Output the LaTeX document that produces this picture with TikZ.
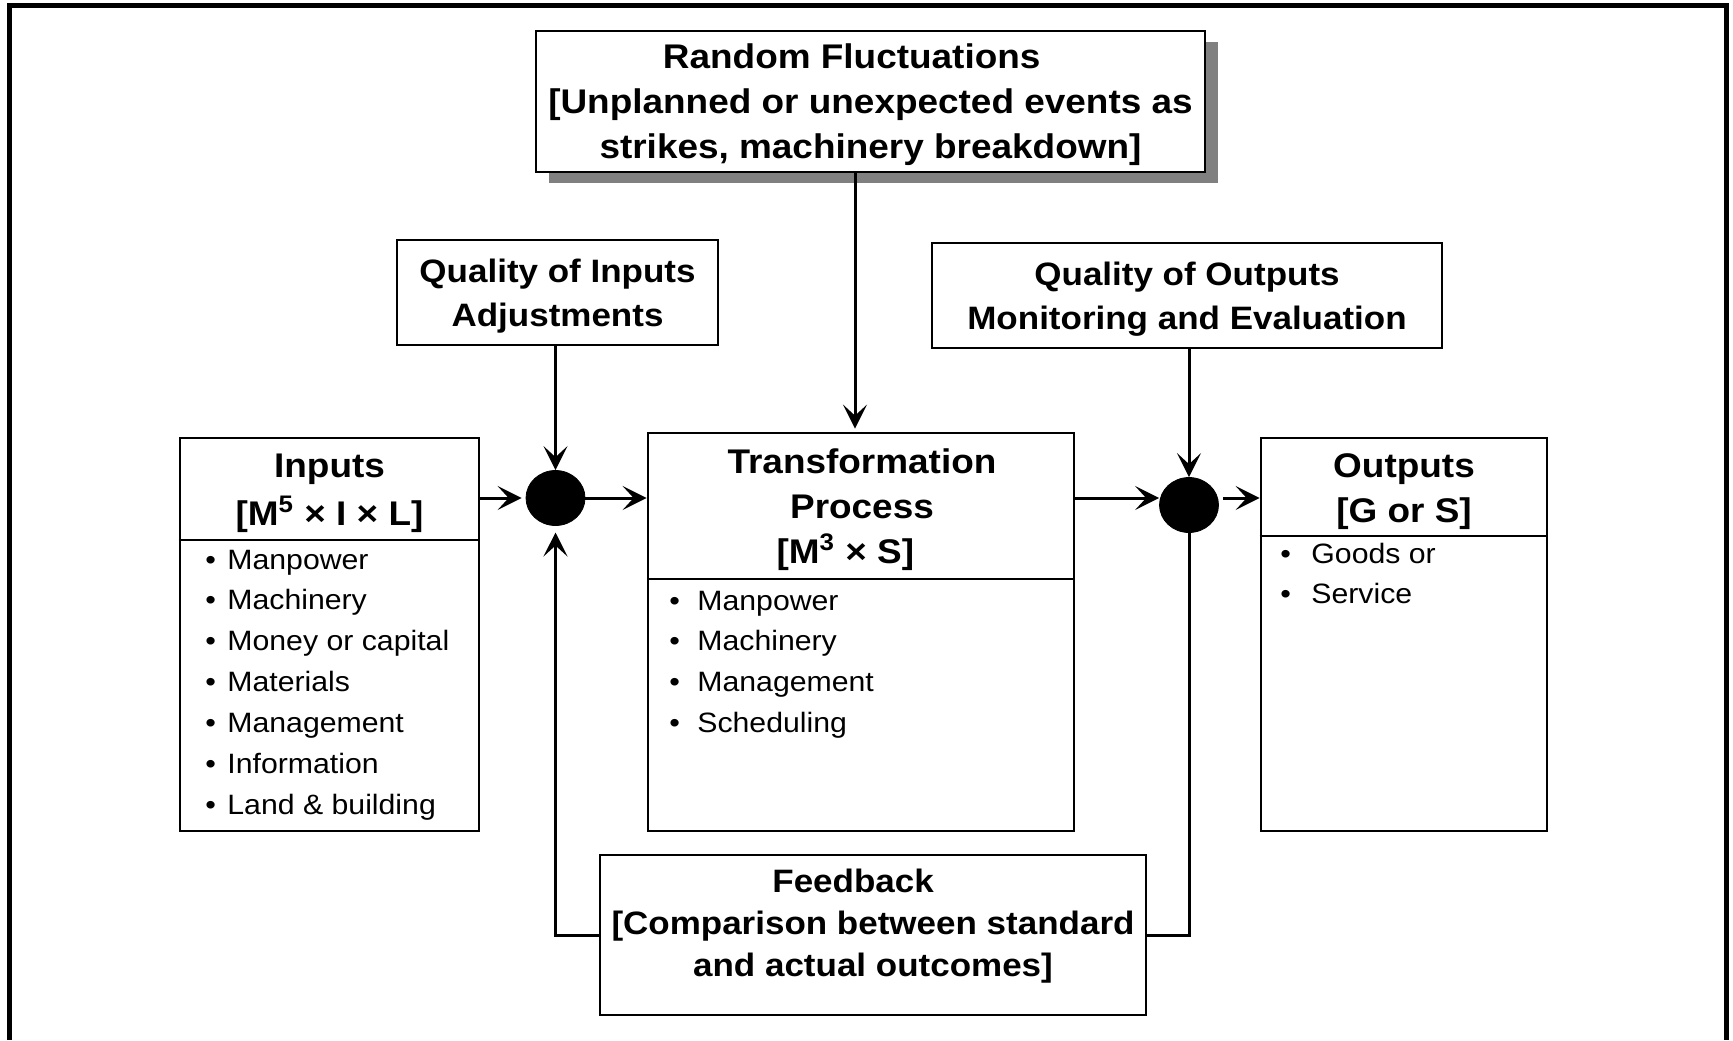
\documentclass[tikz,border=0pt]{standalone}
\usepackage{fontspec}
\setmainfont{Liberation Sans}[FakeStretch=1.08]
\usetikzlibrary{arrows.meta,positioning,shadows,shapes.geometric}
\tikzset{%
   blk/.style={
      draw=black,
      line width=1.4pt,
      fill=white,
      inner sep=0pt
   },
   hdr/.style={
      align=center,
      inner sep=0pt,
      text depth=0pt,
      font=\bfseries\fontsize{17.1}{22.5}\selectfont
   },
   qhdr/.style={
      hdr,
      font=\bfseries\fontsize{16.2}{22}\selectfont
   },
   itm/.style={
      anchor=base west,
      inner sep=0pt,
      font=\fontsize{14}{17}\selectfont
   },
   jn/.style={
      ellipse,
      draw=black,
      fill=black,
      inner sep=0pt,
      minimum width=29.5pt,
      minimum height=27.5pt
   },
   wire/.style={
      line width=1.5pt
   },
   arw/.style={
      wire,
      -{Stealth[length=12pt,width=12pt,inset=5.5pt]}
   },
   rim/.style={
      line width=2.5pt
   },
}
\begin{document}
\begin{tikzpicture}[x=0.5pt, y=-0.5pt]
   \useasboundingbox (0,0) rectangle (1733,1040);
   % frame, open at the bottom
   \draw[rim] (9.5,1040) -- (9.5,5.5) -- (1726,5.5) -- (1726,1040);
   % blocks
   \node[blk, hdr, minimum width=334.5pt, minimum height=70.5pt,
      drop shadow={shadow xshift=6.5pt, shadow yshift=-5.5pt, fill=black!50, opacity=1}]
      (rf) at (870.5,101.5) {Random Fluctuations\hspace*{18.8pt}\\{[}Unplanned or unexpected events as\\strikes, machinery breakdown{]}};
   \node[blk, qhdr, minimum width=160.5pt, minimum height=52.5pt] (qi) at (557.5,292.5) {Quality of Inputs\\Adjustments};
   \node[blk, qhdr, minimum width=255pt, minimum height=52.5pt] (qo) at (1187,295.5) {Quality of Outputs\\Monitoring and Evaluation};
   \node[blk, minimum width=149.5pt, minimum height=196.5pt] (ip) at (329.5,634.5) {};
   \node[blk, minimum width=213pt, minimum height=199pt] (tp) at (861,632) {};
   \node[blk, minimum width=143pt, minimum height=196.5pt] (op) at (1404,634.5) {};
   \node[blk, minimum width=273pt, minimum height=80pt] (fb) at (873,935) {};
   % titles
   \node[hdr, font=\bfseries\fontsize{17.1}{23.75}\selectfont] (iptitle) at (329.5,489.5) {Inputs\\{[}M\textsuperscript{5} × I × L{]}};
   \node[hdr] (tptitle) at (862,506) {Transformation\\Process\\{[}M\textsuperscript{3} × S{]}\hspace*{16.6pt}};
   \node[hdr] (optitle) at (1404,488) {Outputs\\{[}G or S{]}};
   \node[qhdr, font=\bfseries\fontsize{16.2}{21}\selectfont] (fbtitle) at (873,923)
      {Feedback\hspace*{19.9pt}\\{[}Comparison between standard\\and actual outcomes{]}};
   \draw[line width=1.4pt] (ip.west |- 0,540) -- (ip.east |- 0,540);
   \draw[line width=1.4pt] (tp.west |- 0,579) -- (tp.east |- 0,579);
   \draw[line width=1.4pt] (op.west |- 0,536) -- (op.east |- 0,536);
   % lists
   \foreach \t [count=\i from 0] in {Manpower,Machinery,Money or capital,Materials,Management,Information,Land \& building}
      \node[itm] (ipi\i) at (205,{569+40.9*\i}) {\makebox[11pt][l]{\textbullet}\t};
   \foreach \t [count=\i from 0] in {Manpower,Machinery,Management,Scheduling}
      \node[itm] (tpi\i) at (669,{610+40.9*\i}) {\makebox[14pt][l]{\textbullet}\t};
   \foreach \t [count=\i from 0] in {Goods or,Service}
      \node[itm] (opi\i) at (1280,{563+40.9*\i}) {\makebox[15.5pt][l]{\textbullet}\t};
   % junctions
   \node[jn] (jin) at (555.5,498) {};
   \node[jn] (jout) at (1189,505) {};
   \coordinate (rfa) at ([xshift=-7.75pt]rf.south);
   \coordinate (jo) at ([xshift=2pt]jout.east);
   % connectors
   \draw[arw, shorten >=2pt] (ip.east |- jin) -- (jin);
   \draw[arw] (jin) -- (jin -| tp.west);
   \draw[arw, shorten >=1.5pt] (rfa) -- (rfa |- tp.north);
   \draw[arw] (qi.south -| jin) -- (jin);
   \draw[arw] (qo.south -| jout) -- (jout);
   \draw[arw] (tp.east |- jin) -- (jout.west |- jin);
   \draw[arw] (jo |- jin) -- (op.west |- jin);
   \draw[wire] (jout) |- (fb.east);
   \draw[arw] (fb.west) -| ([yshift=-3.3pt]jin.south);
\end{tikzpicture}
\end{document}
